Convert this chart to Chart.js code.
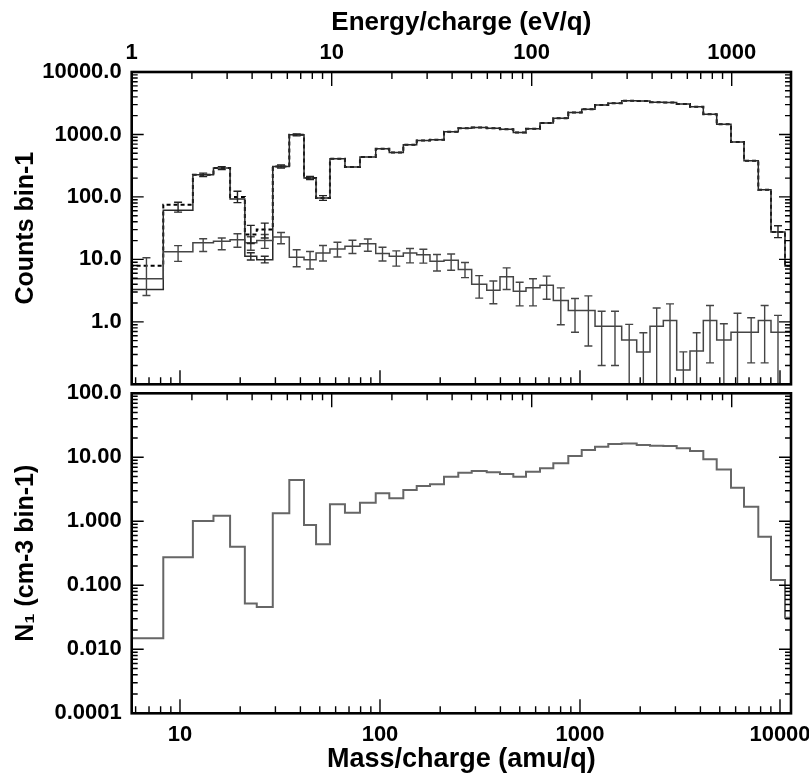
<!DOCTYPE html>
<html>
<head>
<meta charset="utf-8">
<script src="https://cdn.jsdelivr.net/npm/chart.js@4.4.0/dist/chart.umd.min.js"></script>
<style>
  html, body { margin: 0; padding: 0; background: #fff; }
  #wrap { position: relative; width: 809px; height: 776px; }
  .layer { position: absolute; left: 0; top: 0; width: 809px; height: 776px; }
</style>
</head>
<body>
<div id="wrap">
  <div class="layer"><canvas id="topChart"></canvas></div>
  <div class="layer"><canvas id="botChart"></canvas></div>
</div>
<script>
// --- Data ---
// histogram bin edges in mass/charge (amu/q)
const massEdges = [5.6, 8.25, 11.6, 14.7, 17.8, 21.1, 24.2, 29.1, 35.2, 41.7, 47.9, 56.2, 66.8, 79.4, 95.2,
    111.3, 130.8, 152.6, 177.8, 208.9, 246.3, 287.4, 341.7, 398.1, 464.1, 537, 631, 735.5, 874, 1020, 1189,
    1385, 1616, 1921, 2239, 2610, 3044, 3548, 4136, 4825, 5689, 6607, 7790, 9016, 10590, 12000];

// top panel: counts per bin (solid line)
const countsCorr = [3.3, 61, 226, 290, 93, 11.2, 9.9, 307, 986, 200, 96, 408, 300, 434, 589, 515, 682, 800, 820,
    1110, 1260, 1290, 1260, 1215, 1070, 1230, 1520, 1820, 2240, 2540, 2970, 3160, 3470, 3440, 3280, 3250, 3080,
    2790, 2110, 1460, 754, 379, 130, 27.5, 7.8];
const corrErrLo = [null, null, null, null, null, 9.8, 8.8, null, null, null, null, null, null, null, null, null, null,
    null, null, null, null, null, null, null, null, null, null, null, null, null, null, null, null, null, null, null,
    null, null, null, null, null, null, null, null, null];
const corrErrHi = [null, null, null, null, null, 12.8, 11.2, null, null, null, null, null, null, null, null, null, null,
    null, null, null, null, null, null, null, null, null, null, null, null, null, null, null, null, null, null, null,
    null, null, null, null, null, null, null, null, null];

// top panel: counts per bin (dashed line)
const countsRaw = [7.9, 75, 226, 290, 100, 25, 30, 307, 986, 200, 96, 408, 300, 434, 589, 515, 682, 800, 820,
    1110, 1260, 1290, 1260, 1215, 1070, 1230, 1520, 1820, 2240, 2540, 2970, 3160, 3470, 3440, 3280, 3250, 3080,
    2790, 2110, 1460, 754, 379, 130, 27.5, 7.8];
const rawErrLo = [null, 57, 212, 275, 81, 18, 22, 290, 950, 190, 88, null, null, null, null, null, null, null, null,
    null, null, null, null, null, null, null, null, null, null, null, null, null, null, null, null, null, null, null,
    null, null, null, null, null, 22.3, null];
const rawErrHi = [null, 82, 240, 305, 123, 35, 38, 325, 1020, 212, 105, null, null, null, null, null, null, null, null,
    null, null, null, null, null, null, null, null, null, null, null, null, null, null, null, null, null, null, null,
    null, null, null, null, null, 34.5, null];

// top panel: lower histogram with error bars
const countsBkg = [4.88, 13.2, 18.4, 19.5, 20.7, 18.5, 20, 22.9, 10.8, 9.9, 12.6, 14.7, 16.2, 17.8, 12.4, 11.2,
    12.6, 11.9, 9.3, 9.7, 6.9, 4.0, 3.2, 5.25, 3.1, 3.5, 3.85, 2.2, 1.52, 1.52, 0.85, 0.85, 0.51, 0.33, 0.85, 1.05,
    0.17, 0.34, 1.05, 0.51, 0.68, 0.68, 1.05, 0.68, 0.68];
const bkgErrHi = [10.6, 16.6, 21.4, 22, 25.7, 23, 25, 27, 14.3, 13.4, 16.7, 18.8, 20.2, 21.2, 15.6, 13.7, 14.9,
    14.5, 12, 12.2, 8.9, 5.5, 4.5, 7.3, 4.3, 4.9, 5.4, 3.5, 2.37, 2.6, 1.48, 1.48, 0.91, 0.67, 1.67, 1.94, 0.33,
    0.67, 1.83, 0.93, 1.37, 1.16, 1.83, 1.27, null];
const bkgErrLo = [2.64, 9.3, 13.4, 14.3, 15.6, 14, 15, 17.8, 7.6, 7.0, 9.4, 10.9, 12.4, 13.5, 9.4, 7.8, 8.8, 8.7,
    6.5, 6.7, 5.1, 2.4, 1.95, 3.3, 1.8, 1.8, 2.3, 0.9, 0.68, 0.41, 0.2, 0.2, 0.01, 0.01, 0.01, 0.01, 0.01, 0.01,
    0.22, 0.01, 0.01, 0.22, 0.22, 0.01, null];

// bottom panel: N1 (cm-3 bin-1)
const densityN1 = [0.0149, 0.274, 1.01, 1.22, 0.40, 0.052, 0.046, 1.33, 4.42, 0.875, 0.437, 1.84, 1.36, 1.95,
    2.74, 2.29, 3.08, 3.55, 3.78, 4.97, 5.75, 6.1, 5.83, 5.48, 4.97, 5.96, 6.73, 8.05, 10.5, 13.0, 14.6, 16.1, 16.5,
    15.5, 15.1, 15.0, 13.8, 12.5, 9.3, 6.46, 3.35, 1.69, 0.575, 0.121, 0.031];

// axes
const massMin = 5.735, massMax = 11350;
const massPerEnergy = 5.735;   // energy axis = mass / 5.735
const massTicks = [10, 100, 1000, 10000];
const massTickLabels = ['10', '100', '1000', '10000'];
const energyTicks = [1, 10, 100, 1000];
const energyTickLabels = ['1', '10', '100', '1000'];
const countTicks = [1, 10, 100, 1000, 10000];
const countTickLabels = ['1.0', '10.0', '100.0', '1000.0', '10000.0'];
const densTicks = [0.001, 0.01, 0.1, 1, 10, 100];
const densTickLabels = ['0.0001', '0.010', '0.100', '1.000', '10.00', '100.0'];

const FONT = 'Liberation Sans, Arial, Helvetica, sans-serif';
const H = 776;

function histPoints(values) {
    const pts = values.map((v, i) => ({ x: massEdges[i], y: v }));
    pts.push({ x: massEdges[values.length], y: values[values.length - 1] });
    return pts;
}

function logTickValues(min, max) {
    const out = [];
    for (let e = Math.floor(Math.log10(min)) - 1; e <= Math.ceil(Math.log10(max)); e++) {
        for (let m = 1; m < 10; m++) {
            const v = m * Math.pow(10, e);
            if (v >= min * 0.999 && v <= max * 1.001) out.push({ v: v, major: m === 1 });
        }
    }
    return out;
}

// Frame with inward ticks on all four sides
const framePlugin = {
    id: 'frame',
    afterDraw(chart) {
        const { ctx, chartArea: a, scales } = chart;
        ctx.save();
        ctx.strokeStyle = '#000';
        ctx.lineWidth = 1.4;
        ctx.beginPath();
        logTickValues(scales.xE.min, scales.xE.max).forEach(t => {
            const px = scales.xE.getPixelForValue(t.v);
            ctx.moveTo(px, a.top); ctx.lineTo(px, a.top + (t.major ? 14 : 7));
        });
        logTickValues(scales.x.min, scales.x.max).forEach(t => {
            const px = scales.x.getPixelForValue(t.v);
            ctx.moveTo(px, a.bottom); ctx.lineTo(px, a.bottom - (t.major ? 14 : 7));
        });
        logTickValues(scales.y.min, scales.y.max).forEach(t => {
            const py = scales.y.getPixelForValue(t.v);
            const len = t.major ? 12 : 6;
            ctx.moveTo(a.left, py); ctx.lineTo(a.left + len, py);
            ctx.moveTo(a.right, py); ctx.lineTo(a.right - len, py);
        });
        ctx.stroke();
        ctx.lineWidth = 2.6;
        ctx.strokeRect(a.left, a.top, a.right - a.left, a.bottom - a.top);
        ctx.restore();
    }
};

// Vertical error bars at the log-centre of each bin
const errorBarPlugin = {
    id: 'errorBars',
    afterDatasetsDraw(chart) {
        const { ctx, chartArea: a } = chart;
        const xs = chart.scales.x, ys = chart.scales.y;
        ctx.save();
        ctx.beginPath();
        ctx.rect(a.left, a.top, a.right - a.left, a.bottom - a.top);
        ctx.clip();
        ctx.setLineDash([]);
        chart.data.datasets.forEach(ds => {
            if (!ds.errLo) return;
            ctx.strokeStyle = ds.errColor || ds.borderColor;
            ctx.lineWidth = 1.4;
            ds.errLo.forEach((lo, i) => {
                const hi = ds.errHi[i];
                if (lo == null || hi == null) return;
                const px = xs.getPixelForValue(Math.sqrt(massEdges[i] * massEdges[i + 1]));
                const y1 = ys.getPixelForValue(lo), y2 = ys.getPixelForValue(hi);
                ctx.beginPath();
                ctx.moveTo(px, y1); ctx.lineTo(px, y2);
                ctx.moveTo(px - 4, y1); ctx.lineTo(px + 4, y1);
                ctx.moveTo(px - 4, y2); ctx.lineTo(px + 4, y2);
                ctx.stroke();
            });
        });
        ctx.restore();
    }
};

function tickFont() { return { family: FONT, size: 22, weight: 'bold' }; }

function makeOptions(cfg) {
    const noGrid = { display: false, drawTicks: false, tickLength: 0 };
    return {
        responsive: true,
        maintainAspectRatio: false,
        animation: false,
        events: [],
        layout: { padding: { left: 0, right: 18, top: 0, bottom: 0 } },
        plugins: { legend: { display: false }, tooltip: { enabled: false } },
        scales: {
            x: {
                type: 'logarithmic', position: 'bottom', min: massMin, max: massMax,
                grid: noGrid, border: { display: false },
                ticks: {
                    display: cfg.showMass, font: tickFont(), color: '#000', padding: 8,
                    maxRotation: 0, autoSkip: false, callback: (v, i) => massTickLabels[i]
                },
                afterBuildTicks: s => { s.ticks = massTicks.map(v => ({ value: v })); },
                title: {
                    display: cfg.showMass, text: 'Mass/charge (amu/q)', color: '#000',
                    font: { family: FONT, size: 27, weight: 'bold' }, padding: { top: 0, bottom: 0 }
                },
                afterFit: s => { s.height = H - cfg.bottom; s.paddingLeft = 0; s.paddingRight = 0; }
            },
            xE: {
                type: 'logarithmic', position: 'top',
                min: massMin / massPerEnergy, max: massMax / massPerEnergy,
                grid: noGrid, border: { display: false },
                ticks: {
                    display: cfg.showEnergy, font: tickFont(), color: '#000', padding: 6,
                    maxRotation: 0, autoSkip: false, callback: (v, i) => energyTickLabels[i]
                },
                afterBuildTicks: s => { s.ticks = energyTicks.map(v => ({ value: v })); },
                title: {
                    display: cfg.showEnergy, text: 'Energy/charge (eV/q)', color: '#000',
                    font: { family: FONT, size: 26, weight: 'bold' }, padding: { top: 7, bottom: 0 }
                },
                afterFit: s => { s.height = cfg.top; s.paddingLeft = 0; s.paddingRight = 0; }
            },
            y: {
                type: 'logarithmic', position: 'left', min: cfg.yMin, max: cfg.yMax,
                grid: noGrid, border: { display: false },
                ticks: {
                    font: tickFont(), color: '#000', padding: 10, autoSkip: false,
                    callback: (v, i) => cfg.yLabels[i]
                },
                afterBuildTicks: s => { s.ticks = cfg.yTicks.map(v => ({ value: v })); },
                title: {
                    display: true, text: cfg.yTitle, color: '#000',
                    font: { family: FONT, size: 25, weight: 'bold' }, padding: { top: 11, bottom: 0 }
                },
                afterFit: s => { s.width = 131.7; s.paddingTop = 0; s.paddingBottom = 0; }
            }
        }
    };
}

function stepSet(values, color, width, dash, errLo, errHi, errColor) {
    return {
        data: histPoints(values), xAxisID: 'x', yAxisID: 'y',
        borderColor: color, borderWidth: width, borderDash: dash || [],
        stepped: true, pointRadius: 0, fill: false, tension: 0,
        errLo: errLo, errHi: errHi, errColor: errColor
    };
}

new Chart(document.getElementById('topChart'), {
    type: 'line',
    data: {
        datasets: [
            stepSet(countsBkg, '#454545', 1.5, null, bkgErrLo, bkgErrHi),
            stepSet(countsCorr, '#2a2a2a', 1.5, null, corrErrLo, corrErrHi),
            stepSet(countsRaw, '#000', 2, [4, 3], rawErrLo, rawErrHi, '#222')
        ]
    },
    options: makeOptions({
        top: 72, bottom: 384.3, showEnergy: true, showMass: false,
        yMin: 0.1, yMax: 10000, yTicks: countTicks, yLabels: countTickLabels, yTitle: 'Counts bin-1'
    }),
    plugins: [errorBarPlugin, framePlugin]
});

new Chart(document.getElementById('botChart'), {
    type: 'line',
    data: {
        datasets: [stepSet(densityN1, '#666', 2)]
    },
    options: makeOptions({
        top: 393.3, bottom: 713.3, showEnergy: false, showMass: true,
        yMin: 0.001, yMax: 100, yTicks: densTicks, yLabels: densTickLabels, yTitle: 'N\u2081 (cm-3 bin-1)'
    }),
    plugins: [errorBarPlugin, framePlugin]
});
</script>
</body>
</html>
